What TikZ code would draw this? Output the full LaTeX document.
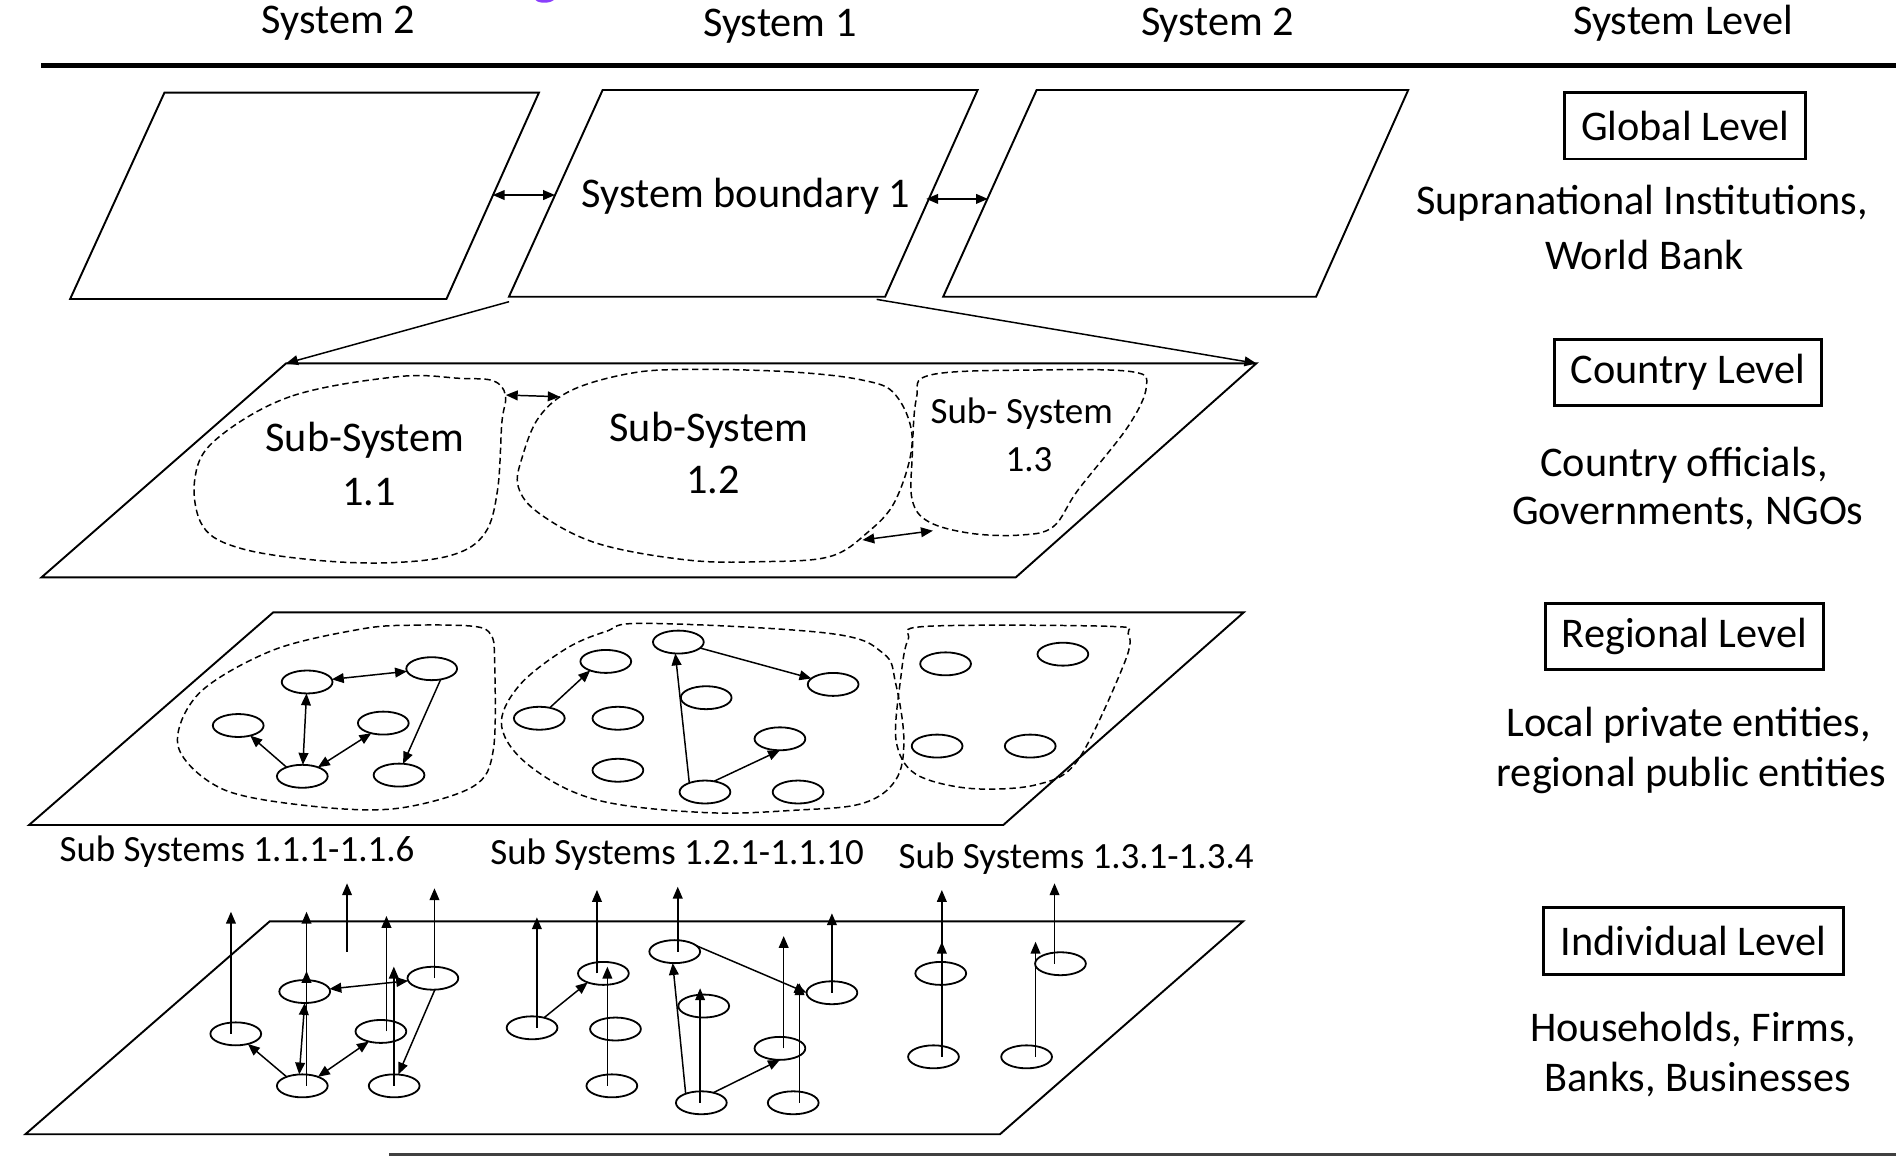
\documentclass[tikz,border=0pt]{standalone}
\usepackage{fontspec}
\setmainfont{Carlito}
\usetikzlibrary{arrows.meta,shapes.geometric}
\definecolor{markpurple}{HTML}{8A3FFC}
\begin{document}
\begin{tikzpicture}[x=0.02cm,y=-0.02cm,
  every node/.style={font=\fontsize{19.9}{23}\selectfont, inner sep=0pt, outer sep=0pt},
  smalltext/.style={font=\fontsize{17.4}{20}\selectfont},
  plane/.style={draw, line width=0.9pt, line join=miter},
  blob/.style={line width=0.7pt, dash pattern=on 3pt off 1.8pt},
  ent/.style={ellipse, draw, line width=0.85pt, minimum width=0.84cm, minimum height=0.38cm},
  >={Triangle[length=5.6pt,width=4.6pt]},
  link/.style={line width=0.7pt, ->},
  dlink/.style={line width=0.7pt, <->},
  lvlbox/.style={draw, line width=1.4pt, minimum height=1.1cm}]
\useasboundingbox (0,0) rectangle (1568,956);

% ---------- header ----------
\fill[markpurple] (443,0) .. controls (445,3) and (455,3) .. (458,0) -- cycle;
\node (h1) at (280,19) {System 2};
\node (h2) at (645,22) {System 1};
\node (h3) at (1007,21) {System 2};
\node (h4) at (1392,19) {System Level};
\coordinate (hl) at (34,54.5);
\coordinate (hr) at (1568,54.5);
\draw[line width=2.3pt] (hl) -- (hr);

% ---------- global level ----------
\draw[plane] (136,76.6) -- (445.7,76.6) -- (369.2,247.3) -- (58,247.3) -- cycle;
\draw[plane] (498.4,74.4) -- (808.5,74.4) -- (732,245.4) -- (420.9,245.4) -- cycle;
\draw[plane] (857.3,74.4) -- (1164.6,74.4) -- (1088.4,245.4) -- (780,245.4) -- cycle;
\node (sb) at (617,162) {System boundary 1};
\coordinate (g1a) at (407.5,161.3);
\coordinate (g1b) at (459,161.3);
\coordinate (g2a) at (766,164.5);
\coordinate (g2b) at (817,164.5);
\draw[dlink] (g1a) -- (g1b);
\draw[dlink] (g2a) -- (g2b);

% projection of system 1 onto the country plane
\coordinate (p1) at (421,249.5);
\coordinate (p2) at (725,247.6);
\coordinate (c1) at (236.6,300.5);
\coordinate (c2) at (1039,300.5);
\draw[link] (p1) -- (c1);
\draw[link] (p2) -- (c2);

% ---------- country level ----------
\draw[plane] (c1) -- (c2) -- (840,477.5) -- (34.3,477.5) -- cycle;
\draw[blob] plot[smooth cycle, tension=0.6] coordinates {(329,311.5) (240,328) (178,364) (161,397) (168,435.6) (199,453.5) (260.6,463.2) (322,465.4) (374,459) (401,441) (411.5,405) (415,350) (418,327) (408,315) (380.6,312.9)};
\draw[blob] plot[smooth cycle, tension=0.6] coordinates {(569,305.5) (651.5,307.4) (713,314.3) (740.7,326.7) (754.4,364) (740.7,413.5) (716.7,441) (685.8,460.4) (631,464.5) (569,463.2) (494,449.4) (446,424.6) (428.6,402.5) (432,377.7) (446,344.6) (473,322.6) (521,308.8)};
\draw[blob] plot[smooth cycle, tension=0.6] coordinates {(770,310) (857,306) (936,307.4) (948,320) (932.7,353) (891.5,405.3) (871,435.6) (843.5,442.5) (802.4,441) (768,431.5) (754.4,413.5) (754.4,377.7) (757.8,330)};
\node (s11a) at (301.8,364) {Sub-System};
\node (s11b) at (305,407) {1.1};
\node (s12a) at (586.4,355.6) {Sub-System};
\node (s12b) at (589.8,397) {1.2};
\node[smalltext] (s13a) at (845,342) {Sub- System};
\node[smalltext] (s13b) at (851,380) {1.3};
\coordinate (k1a) at (418.3,326.7);
\coordinate (k1b) at (462.9,328.1);
\coordinate (k2a) at (713.2,446.6);
\coordinate (k2b) at (771.5,438.9);
\draw[dlink] (k1a) -- (k1b);
\draw[dlink] (k2a) -- (k2b);

% ---------- regional level ----------
\draw[plane] (226,506.4) -- (1028.6,506.4) -- (829.7,682.3) -- (24,682.3) -- cycle;
\draw[blob] plot[smooth cycle, tension=0.55] coordinates {(300,520) (343,517) (392,518) (406,525) (409,545) (408,620) (391,650.6) (329,668.5) (260.6,667) (185,653) (147.4,617.5) (164.6,573.4) (226,537.6)};
\draw[blob] plot[smooth cycle, tension=0.6] coordinates {(534.9,515.5) (685.8,523.8) (730.4,540.3) (740.7,565.1) (747.5,612) (740.7,645.1) (713.2,664.4) (658.4,670) (582.9,672) (493.8,661.6) (438.9,634.1) (414.9,601) (428.6,567.9) (466.3,537.6) (500.6,522.4)};
\draw[blob] plot[smooth cycle, tension=0.55] coordinates {(766,518) (918,518) (933,524) (930,548) (891.5,628.5) (857,649) (802,652) (757,640) (741,612) (745,560) (751,529)};

\node[ent] (a1) at (254,564) {};
\node[ent] (a2) at (357,553) {};
\node[ent] (a3) at (197,600) {};
\node[ent] (a4) at (317,598) {};
\node[ent] (a5) at (250,642) {};
\node[ent] (a6) at (330,641) {};
\node[ent] (b1) at (501,547) {};
\node[ent] (b2) at (561,531) {};
\node[ent] (b3) at (689,566) {};
\node[ent] (b4) at (584,577) {};
\node[ent] (b5) at (446,594) {};
\node[ent] (b6) at (511,594) {};
\node[ent] (b7) at (645,611) {};
\node[ent] (b8) at (511,637) {};
\node[ent] (b9) at (583,655) {};
\node[ent] (b10) at (660,655) {};
\node[ent] (cc1) at (782,549) {};
\node[ent] (cc2) at (879,541) {};
\node[ent] (cc3) at (775,617) {};
\node[ent] (cc4) at (852,617) {};

\draw[dlink] (a1) -- (a2);
\draw[dlink] (a5) -- (a1);
\draw[link] (a5.150) -- (a3.-40);
\draw[dlink] (a5.30) -- (a4.-140);
\draw[link] (a2.-50) -- (a6.70);
\draw[link] (b5.45) -- (b1.-150);
\draw[link] (b9.150) -- (b2.-105);
\draw[link] (b2) -- (b3);
\draw[link] (b9.50) -- (b7.south);

\node[smalltext] (l1) at (196,704) {Sub Systems 1.1.1-1.1.6};
\node[smalltext] (l2) at (560,707) {Sub Systems 1.2.1-1.1.10};
\node[smalltext] (l3) at (890,709.8) {Sub Systems 1.3.1-1.3.4};

% ---------- individual level ----------
\draw[plane] (223,762) -- (1028,762) -- (827,938) -- (21,938) -- cycle;

\node[ent] (A) at (195,855) {};
\node[ent] (B) at (252,820) {};
\node[ent] (C) at (358,809) {};
\node[ent] (E) at (315,853) {};
\node[ent] (D) at (250,898) {};
\node[ent] (F) at (326,898) {};
\node[ent] (G) at (440,850) {};
\node[ent] (H) at (499,805) {};
\node[ent] (I) at (509,851) {};
\node[ent] (J) at (506,898) {};
\node[ent] (K) at (558,787) {};
\node[ent] (L) at (582,832) {};
\node[ent] (M) at (645,867) {};
\node[ent] (N) at (688,821) {};
\node[ent] (O) at (580,912) {};
\node[ent] (P) at (656,912) {};
\node[ent] (Q) at (778,805) {};
\node[ent] (R) at (877,797) {};
\node[ent] (S) at (772,874) {};
\node[ent] (T) at (849,874) {};

% links inside the sub systems
\draw[dlink] (B) -- (C);
\draw[dlink] (D.105) -- (B.south);
\draw[link] (D.150) -- (A.-40);
\draw[dlink] (D.30) -- (E.-140);
\draw[link] (C.-80) -- (F.70);
\draw[link] (G.40) -- (H.-150);
\draw[link] (O.150) -- (K.-100);
\draw[link] (O.40) -- (M.south);
\draw[link] (K.15) -- (N.west);

% upward links towards the regional level
\coordinate (t1) at (191,754);
\coordinate (t2) at (253.5,754);
\coordinate (t2b) at (253.5,803);
\coordinate (t3a) at (287,787);
\coordinate (t3) at (287,730.5);
\coordinate (t4) at (319.6,757.5);
\coordinate (t5) at (325.7,799.4);
\coordinate (t6) at (359.3,734.6);
\coordinate (t12) at (444,758.6);
\coordinate (t14) at (493.7,736);
\coordinate (t15) at (502.3,799.4);
\coordinate (tK) at (560.5,733.3);
\coordinate (tO) at (579,817.3);
\coordinate (tM) at (648.1,774.1);
\coordinate (tP) at (661.2,813.2);
\coordinate (tN) at (688,755.3);
\coordinate (tS) at (778.9,778.8);
\coordinate (tQ) at (778.9,736);
\coordinate (tT) at (856.4,778.8);
\coordinate (tR) at (872.1,730.5);

\draw[link] (t1 |- A.center) -- (t1);
\draw[link] (t2 |- D.center) -- (t2);
\draw[link] (t2b |- D.center) -- (t2b);
\draw[link] (t3a) -- (t3);
\draw[link] (t4 |- E.center) -- (t4);
\draw[link] (t5 |- F.center) -- (t5);
\draw[link] (t6 |- C.center) -- (t6);
\draw[link] (t12 |- G.center) -- (t12);
\draw[link] (t14 |- H.center) -- (t14);
\draw[link] (t15 |- J.center) -- (t15);
\draw[link] (tK |- K.center) -- (tK);
\draw[link] (tO |- O.center) -- (tO);
\draw[link] (tM |- M.center) -- (tM);
\draw[link] (tP |- P.center) -- (tP);
\draw[link] (tN |- N.center) -- (tN);
\draw[link] (tS |- S.center) -- (tS);
\draw[link] (tQ |- Q.center) -- (tQ);
\draw[link] (tT |- T.center) -- (tT);
\draw[link] (tR |- R.center) -- (tR);

% ---------- system level column ----------
\node[lvlbox, minimum width=3.98cm] (gl) at (1393.7,104) {Global Level};
\node (d1a) at (1358,168.2) {Supranational Institutions,};
\node (d1b) at (1360,211) {World Bank};
\node[lvlbox, minimum width=4.42cm] (cl) at (1396,308.2) {Country Level};
\node (d2a) at (1392.7,384.5) {Country officials,};
\node (d2b) at (1395.8,424.5) {Governments, NGOs};
\node[lvlbox, minimum width=4.6cm] (rl) at (1393,526.4) {Regional Level};
\node (d3a) at (1396.5,599.6) {Local private entities,};
\node (d3b) at (1399,641) {regional public entities};
\node[lvlbox, minimum width=4.96cm] (il) at (1400.4,778.1) {Individual Level};
\node (d4a) at (1400.4,851.2) {Households, Firms,};
\node (d4b) at (1404,893) {Banks, Businesses};

% closing rule at the foot
\coordinate (fl) at (322,955);
\coordinate (fr) at (1568,955);
\draw[line width=1.4pt, black!75] (fl) -- (fr);
\end{tikzpicture}
\end{document}
